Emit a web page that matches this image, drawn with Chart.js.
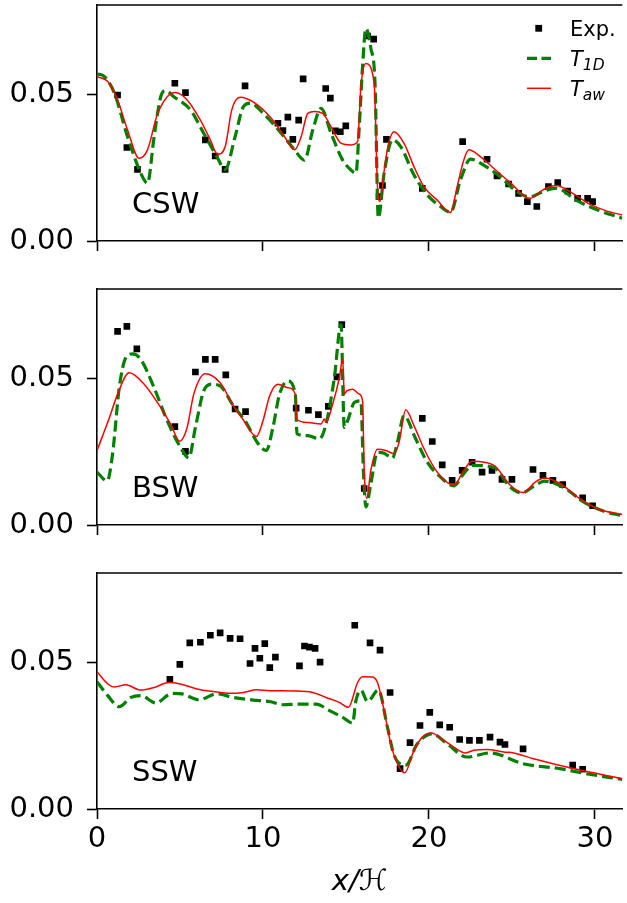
<!DOCTYPE html>
<html>
<head>
<meta charset="utf-8">
<script src="https://cdn.jsdelivr.net/npm/chart.js@4.4.1/dist/chart.umd.min.js"></script>
<style>
  html, body { margin: 0; padding: 0; background: #fff; overflow: hidden; }
  .painel { position: absolute; left: 0; width: 627px; }
</style>
</head>
<body>
<div class="painel" style="top:0"><canvas id="cswChart" width="627" height="262"></canvas></div>
<div class="painel" style="top:284px"><canvas id="bswChart" width="627" height="262"></canvas></div>
<div class="painel" style="top:568px"><canvas id="sswChart" width="627" height="335"></canvas></div>
<script>
const xTicks = [0, 10, 20, 30];
const yTicks = [0, 0.05];
const xMax = 31.65;
const yMax = 0.0808;

// CSW
const cswExpX = [1.24, 1.8, 2.44, 4.69, 5.33, 6.53, 7.12, 7.72, 8.92, 10.9, 11.2, 11.5, 11.8, 12.15, 12.42, 13.78, 14.06, 14.36, 14.66, 14.99, 16.3, 16.67, 16.99, 17.2, 17.44, 19.6, 22.03, 23.5, 24.1, 24.8, 25.4, 25.93, 26.5, 27.2, 27.76, 28.36, 28.96, 29.56, 29.86];
const cswExpY = [0.050, 0.032, 0.0245, 0.054, 0.0508, 0.0346, 0.0291, 0.0245, 0.0531, 0.0403, 0.0378, 0.0424, 0.0348, 0.0414, 0.0555, 0.0522, 0.0489, 0.0377, 0.0374, 0.0394, 0.0702, 0.0691, 0.0152, 0.019, 0.0348, 0.018, 0.034, 0.028, 0.0223, 0.0195, 0.0163, 0.0135, 0.0118, 0.0186, 0.020, 0.0171, 0.0146, 0.0146, 0.0135];
const cswT1dX = [0, 0.45, 1.05, 1.84, 2.64, 3.04, 3.44, 3.84, 4.14, 4.63, 5.63, 6.43, 7.22, 7.72, 8.32, 8.82, 9.22, 10.1, 11.1, 11.9, 12.5, 13.0, 13.5, 14.1, 14.8, 15.3, 15.6, 15.8, 16.0, 16.2, 16.5, 16.75, 16.95, 17.3, 17.8, 18.3, 19.1, 19.9, 20.7, 21.3, 21.9, 22.5, 23.3, 24.3, 25.3, 26.07, 26.9, 27.66, 28.86, 30.25, 31.65];
const cswT1dY = [0.0572, 0.0563, 0.0506, 0.0357, 0.0232, 0.0198, 0.0357, 0.0494, 0.0515, 0.0494, 0.0449, 0.0369, 0.0289, 0.0245, 0.0357, 0.046, 0.0472, 0.0432, 0.0369, 0.0312, 0.0277, 0.038, 0.0454, 0.0369, 0.0277, 0.0243, 0.0232, 0.0391, 0.0597, 0.0728, 0.066, 0.054, 0.0079, 0.0232, 0.0346, 0.0323, 0.0226, 0.0158, 0.0118, 0.0098, 0.0209, 0.028, 0.026, 0.022, 0.0169, 0.0151, 0.017, 0.0181, 0.014, 0.0104, 0.0078];
const cswTawX = [0, 0.65, 1.24, 1.84, 2.54, 3.04, 3.63, 4.23, 4.73, 5.43, 6.23, 6.83, 7.26, 7.72, 8.12, 8.62, 9.52, 10.5, 11.3, 11.9, 12.3, 12.7, 13.1, 13.6, 14.1, 14.7, 15.3, 15.7, 15.9, 16.2, 16.7, 16.9, 17.05, 17.3, 17.55, 17.9, 18.5, 19.1, 19.7, 20.5, 21.3, 21.7, 22.1, 22.4, 23.1, 23.9, 24.9, 26.07, 26.87, 27.66, 28.66, 29.66, 30.65, 31.65];
const cswTawY = [0.0563, 0.0546, 0.0483, 0.038, 0.0283, 0.0312, 0.0432, 0.0494, 0.0508, 0.0483, 0.0414, 0.0346, 0.0297, 0.0323, 0.0449, 0.0492, 0.0472, 0.042, 0.0357, 0.0312, 0.0357, 0.0437, 0.0443, 0.0437, 0.0391, 0.0335, 0.0329, 0.034, 0.0528, 0.0608, 0.054, 0.0186, 0.0135, 0.024, 0.033, 0.0374, 0.0334, 0.0254, 0.0186, 0.014, 0.0098, 0.0186, 0.0277, 0.0312, 0.0289, 0.0249, 0.020, 0.0146, 0.0175, 0.019, 0.0163, 0.0127, 0.0104, 0.0089];

// BSW
const bswExpX = [1.24, 1.8, 2.4, 4.69, 5.33, 5.93, 6.53, 7.12, 7.76, 8.32, 8.95, 12.0, 12.74, 13.34, 13.94, 14.46, 14.75, 16.1, 19.6, 20.2, 20.8, 21.4, 22.0, 22.6, 23.2, 23.8, 24.4, 25.0, 26.27, 26.87, 27.47, 28.06, 29.26, 29.86];
const bswExpY = [0.0663, 0.068, 0.0603, 0.0337, 0.0252, 0.0524, 0.0567, 0.0567, 0.0514, 0.0397, 0.0388, 0.040, 0.0393, 0.0378, 0.0406, 0.0507, 0.0686, 0.0125, 0.0365, 0.0286, 0.0206, 0.0153, 0.0187, 0.0215, 0.0181, 0.0187, 0.0156, 0.0156, 0.019, 0.017, 0.0153, 0.0138, 0.0093, 0.0066];
const bswT1dX = [0, 0.61, 0.94, 1.34, 1.74, 2.14, 2.64, 3.44, 4.23, 5.03, 5.53, 5.93, 6.43, 6.92, 7.42, 8.22, 8.92, 9.71, 10.2, 10.6, 11.0, 11.5, 11.95, 12.05, 12.7, 13.4, 13.8, 14.3, 14.7, 14.9, 15.1, 15.5, 15.9, 16.05, 16.2, 16.5, 16.9, 17.3, 17.8, 18.1, 18.5, 19.2, 19.9, 20.7, 21.5, 22.1, 22.6, 23.9, 24.9, 25.6, 26.4, 26.97, 28.06, 29.46, 30.65, 31.65];
const bswT1dY = [0.0181, 0.0151, 0.0244, 0.047, 0.0573, 0.0586, 0.0567, 0.047, 0.0357, 0.0266, 0.023, 0.0334, 0.0459, 0.0482, 0.0476, 0.0408, 0.0357, 0.0278, 0.0255, 0.0334, 0.0448, 0.0493, 0.0448, 0.0312, 0.0306, 0.0295, 0.0346, 0.0504, 0.0686, 0.0334, 0.0357, 0.0419, 0.0425, 0.0187, 0.0062, 0.0142, 0.0249, 0.0246, 0.0229, 0.0283, 0.0374, 0.0295, 0.0215, 0.0164, 0.0134, 0.0176, 0.0204, 0.0197, 0.0129, 0.011, 0.0136, 0.015, 0.013, 0.0074, 0.0045, 0.0032];
const bswTawX = [0, 0.75, 1.24, 1.94, 2.84, 3.84, 4.43, 4.99, 5.43, 5.83, 6.53, 7.42, 8.22, 8.72, 9.61, 10.0, 10.4, 10.9, 11.5, 11.95, 12.02, 12.7, 13.5, 13.7, 13.8, 14.2, 14.6, 14.8, 14.9, 15.05, 15.4, 15.8, 16.0, 16.1, 16.25, 16.5, 16.9, 17.4, 17.9, 18.2, 18.6, 19.1, 19.7, 20.5, 21.5, 22.1, 22.6, 23.9, 24.9, 25.67, 26.4, 26.97, 27.9, 29.06, 30.25, 31.65];
const bswTawY = [0.0255, 0.0368, 0.0448, 0.0521, 0.0482, 0.0402, 0.0346, 0.0287, 0.0334, 0.0448, 0.0518, 0.0487, 0.0408, 0.0368, 0.0303, 0.0357, 0.0442, 0.0482, 0.047, 0.0448, 0.0363, 0.0351, 0.0346, 0.0363, 0.0351, 0.0414, 0.0504, 0.0567, 0.0448, 0.0459, 0.0465, 0.0448, 0.0425, 0.0187, 0.0091, 0.0187, 0.0259, 0.0255, 0.0244, 0.0283, 0.0395, 0.034, 0.0261, 0.0181, 0.0136, 0.0187, 0.0218, 0.0205, 0.0136, 0.0111, 0.0147, 0.0161, 0.0142, 0.0091, 0.0054, 0.0036];

// SSW
const sswExpX = [4.39, 4.99, 5.59, 6.23, 6.83, 7.42, 8.02, 8.62, 9.22, 9.52, 9.81, 10.11, 10.41, 10.75, 12.2, 12.5, 12.8, 13.14, 13.44, 15.53, 16.45, 17.05, 17.66, 18.26, 18.86, 19.46, 20.05, 20.65, 21.25, 21.85, 22.44, 23.04, 23.68, 24.28, 24.58, 25.67, 28.66, 29.26];
const sswExpY = [0.0444, 0.0495, 0.0569, 0.0571, 0.0595, 0.0603, 0.0584, 0.0583, 0.0498, 0.055, 0.0516, 0.0566, 0.0484, 0.052, 0.049, 0.0558, 0.0554, 0.055, 0.0503, 0.0629, 0.0569, 0.0544, 0.0399, 0.0138, 0.0227, 0.0286, 0.0331, 0.0288, 0.028, 0.0238, 0.0235, 0.0235, 0.0246, 0.0229, 0.0221, 0.0206, 0.015, 0.0136];
const sswT1dX = [0, 0.65, 1.34, 2.04, 2.64, 3.54, 4.53, 5.13, 6.13, 7.22, 8.22, 9.41, 10.4, 11.2, 12.2, 13.2, 14.0, 14.8, 15.4, 15.6, 15.9, 16.3, 16.95, 17.5, 17.9, 18.6, 19.3, 20.2, 21.1, 22.3, 23.68, 25.67, 27.9, 29.46, 31.65];
const sswT1dY = [0.0436, 0.0388, 0.035, 0.0382, 0.0388, 0.0363, 0.0396, 0.0394, 0.0374, 0.0394, 0.0382, 0.0373, 0.0368, 0.0357, 0.0359, 0.0359, 0.0337, 0.0314, 0.0294, 0.0371, 0.0407, 0.0368, 0.0407, 0.028, 0.0184, 0.015, 0.0223, 0.0257, 0.0223, 0.0178, 0.0192, 0.0155, 0.0138, 0.0121, 0.0101];
const sswTawX = [0, 0.65, 1.05, 1.74, 2.64, 3.44, 4.33, 5.03, 6.03, 7.02, 8.02, 8.82, 9.61, 10.4, 11.8, 13.0, 13.8, 14.6, 15.15, 15.7, 16.0, 16.6, 16.9, 17.3, 17.7, 18.1, 18.54, 19.1, 19.6, 20.13, 20.9, 21.5, 22.2, 22.7, 23.5, 24.5, 25.1, 26.3, 27.47, 29.46, 31.65];
const sswTawY = [0.047, 0.0428, 0.0418, 0.0425, 0.0407, 0.0416, 0.0433, 0.0428, 0.0411, 0.0402, 0.0396, 0.0399, 0.0408, 0.0405, 0.0404, 0.0399, 0.0382, 0.0365, 0.0348, 0.0433, 0.0453, 0.0452, 0.0433, 0.0337, 0.0223, 0.0155, 0.0124, 0.0201, 0.0246, 0.026, 0.0235, 0.0212, 0.0192, 0.0201, 0.0204, 0.0195, 0.0192, 0.0172, 0.0155, 0.0129, 0.0104];

const VERDE = '#008000';
const VERMELHO = '#ff0000';
const FONTE = '"DejaVu Sans", sans-serif';

Chart.defaults.font.family = FONTE;
Chart.defaults.color = '#000';

function pontos(xs, ys) {
    return xs.map((x, i) => ({ x: x, y: ys[i] }));
}

// moldura superior, rótulo do painel e legenda manual
const molduraPlugin = {
    id: 'moldura',
    afterDraw(chart, args, opts) {
        const ctx = chart.ctx;
        const a = chart.chartArea;
        ctx.save();
        ctx.strokeStyle = '#000';
        ctx.lineWidth = 1.6;
        ctx.beginPath();
        ctx.moveTo(a.left - 0.8, a.top);
        ctx.lineTo(a.right, a.top);
        ctx.stroke();

        ctx.fillStyle = '#000';
        ctx.textBaseline = 'alphabetic';
        ctx.textAlign = 'left';
        ctx.font = '29px ' + FONTE;
        ctx.fillText(opts.rotulo, 132, 213);

        if (opts.legenda) {
            const x0 = 527, x1 = 551, xt = 570;
            // Exp.
            ctx.fillRect(538.7 - 3.4, 28.3 - 3.4, 6.8, 6.8);
            ctx.font = '21px ' + FONTE;
            ctx.fillText('Exp.', xt, 36);
            // T_1D
            ctx.strokeStyle = VERDE;
            ctx.lineWidth = 3.2;
            ctx.setLineDash([10, 4.5]);
            ctx.beginPath(); ctx.moveTo(x0, 58.3); ctx.lineTo(x1, 58.3); ctx.stroke();
            ctx.setLineDash([]);
            escreverIndice(ctx, xt, 66, 'T', '1D');
            // T_aw
            ctx.strokeStyle = VERMELHO;
            ctx.lineWidth = 1.5;
            ctx.beginPath(); ctx.moveTo(x0, 88.3); ctx.lineTo(x1, 88.3); ctx.stroke();
            escreverIndice(ctx, xt, 96, 'T', 'aw');
        }
        ctx.restore();
    }
};

function escreverIndice(ctx, x, y, base, indice) {
    ctx.font = 'italic 21px ' + FONTE;
    ctx.fillText(base, x, y);
    const w = ctx.measureText(base).width;
    ctx.font = 'italic 15.5px ' + FONTE;
    ctx.fillText(indice, x + w, y + 3.5);
}

function criarPainel(canvasId, rotulo, exp, t1d, taw, ultimo, legenda) {
    const ctx = document.getElementById(canvasId).getContext('2d');
    new Chart(ctx, {
        type: 'scatter',
        data: {
            datasets: [
                {
                    label: 'T_aw',
                    data: taw,
                    showLine: true,
                    pointRadius: 0,
                    borderColor: VERMELHO,
                    borderWidth: 1.5,
                    cubicInterpolationMode: 'monotone',
                    order: 0
                },
                {
                    label: 'T_1D',
                    data: t1d,
                    showLine: true,
                    pointRadius: 0,
                    borderColor: VERDE,
                    borderWidth: 3.2,
                    borderDash: [11, 5],
                    cubicInterpolationMode: 'monotone',
                    order: 1
                },
                {
                    label: 'Exp.',
                    data: exp,
                    showLine: false,
                    pointStyle: 'rect',
                    pointRadius: 4.7,
                    pointBackgroundColor: '#000',
                    pointBorderWidth: 0,
                    order: 2
                }
            ]
        },
        options: {
            responsive: false,
            animation: false,
            events: [],
            layout: { padding: { top: 5, right: 0, bottom: 0, left: 0 } },
            plugins: {
                legend: { display: false },
                tooltip: { enabled: false },
                moldura: { rotulo: rotulo, legenda: legenda }
            },
            scales: {
                x: {
                    type: 'linear',
                    min: 0,
                    max: xMax,
                    afterBuildTicks: s => { s.ticks = xTicks.map(v => ({ value: v })); },
                    afterFit: s => {
                        s.height = ultimo ? 94 : 21;
                        s.paddingLeft = 0;
                        s.paddingRight = 0;
                    },
                    ticks: {
                        display: ultimo,
                        font: { size: 29 },
                        color: '#000',
                        padding: 3,
                        maxRotation: 0,
                        autoSkip: false
                    },
                    grid: {
                        drawOnChartArea: false,
                        drawTicks: true,
                        tickLength: 10,
                        tickColor: '#000',
                        tickWidth: 1.6
                    },
                    border: { display: true, color: '#000', width: 1.6 },
                    title: {
                        display: ultimo,
                        text: 'x/ℋ',
                        font: { size: 29, style: 'italic' },
                        color: '#000',
                        padding: { top: 0, bottom: 3 }
                    }
                },
                y: {
                    type: 'linear',
                    min: 0,
                    max: yMax,
                    afterBuildTicks: s => { s.ticks = yTicks.map(v => ({ value: v })); },
                    afterFit: s => {
                        s.width = 97;
                        s.paddingTop = 0;
                        s.paddingBottom = 0;
                    },
                    ticks: {
                        font: { size: 29 },
                        color: '#000',
                        padding: 13,
                        callback: v => v.toFixed(2)
                    },
                    grid: {
                        drawOnChartArea: false,
                        drawTicks: true,
                        tickLength: 10,
                        tickColor: '#000',
                        tickWidth: 1.6
                    },
                    border: { display: true, color: '#000', width: 1.6 }
                }
            }
        },
        plugins: [molduraPlugin]
    });
}

criarPainel('cswChart', 'CSW', pontos(cswExpX, cswExpY), pontos(cswT1dX, cswT1dY), pontos(cswTawX, cswTawY), false, true);
criarPainel('bswChart', 'BSW', pontos(bswExpX, bswExpY), pontos(bswT1dX, bswT1dY), pontos(bswTawX, bswTawY), false, false);
criarPainel('sswChart', 'SSW', pontos(sswExpX, sswExpY), pontos(sswT1dX, sswT1dY), pontos(sswTawX, sswTawY), true, false);
</script>
</body>
</html>
